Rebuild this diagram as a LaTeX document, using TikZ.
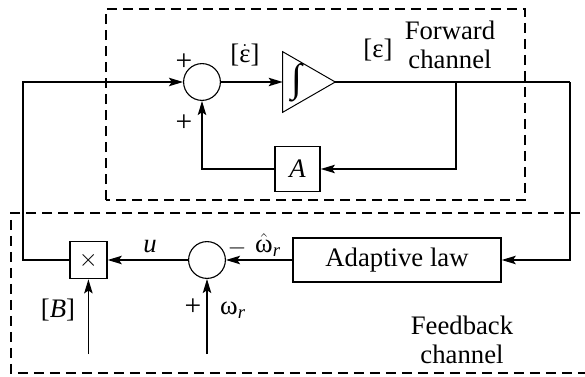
\documentclass[tikz,border=0pt]{standalone}
\usepackage{fontspec}
\setmainfont{Liberation Serif}
\usepackage{tikz}
\usetikzlibrary{arrows.meta}

\begin{document}
\begin{tikzpicture}[arr/.style={-{Stealth[length=10pt,width=6pt,inset=2pt]},line width=1pt},
  blk/.style={draw,line width=1pt,inner sep=0pt},
  sumc/.style={draw,circle,line width=0.8pt,minimum size=0.92cm,inner sep=0pt},
  chan/.style={line width=0.9pt,dash pattern=on 0.25cm off 0.15cm},
  every node/.style={font=\rmfamily\fontsize{19}{21}\selectfont}]
  \useasboundingbox (0,0) rectangle (14.625,9.4);

  % Channel frames
  \draw[chan] (2.65,4.4) rectangle (13.125,9.175);
  \draw[chan] (14.9,4.075) -- (0.275,4.075) -- (0.275,0.075) -- (14.9,0.075);

  % Forward channel
  \node[sumc] (s1) at (5.05,7.35) {};
  \node[minimum width=1.3cm,minimum height=1.5cm,inner sep=0pt] (integ) at (7.725,7.35) {};
  \draw[line width=0.7pt] (integ.north west) -- (integ.east) -- (integ.south west) -- cycle;
  \node[font=\rmfamily\fontsize{28}{28}\selectfont] at (7.42,7.32) {∫};
  \node[blk,minimum size=1.125cm] (Ablk) at (7.44,5.175) {\textit{A}};
  \coordinate (lc) at (0.58,7.35);
  \coordinate (rc) at (14.25,7.35);
  \coordinate (jn) at (11.4,7.35);

  % Feedback channel
  \node[blk,minimum size=0.93cm] (mult) at (2.21,2.9) {$\times$};
  \node[sumc] (s2) at (5.175,2.9) {};
  \node[blk,minimum width=5.2cm,minimum height=1.1cm] (adapt) at (9.925,2.9) {Adaptive law};
  \coordinate (bin) at (2.21,0.55);
  \coordinate (win) at (5.175,0.55);

  % Connections
  \draw[arr] (mult.west) -| (lc) -- (s1.west);
  \draw[arr] (s1.east) -- (integ.west);
  \draw[line width=1pt] (integ.east) -- (rc);
  \draw[arr] (rc) |- (adapt.east);
  \draw[arr] (jn) |- (Ablk.east);
  \draw[arr] (Ablk.west) -| (s1.south);
  \draw[arr] (adapt.west) -- (s2.east);
  \draw[arr] (s2.west) -- (mult.east);
  \draw[arr] (bin) -- (mult.south);
  \draw[arr] (win) -- (s2.south);

  % Signs and signals
  \node at (4.6,7.85) {\fontsize{21}{21}\selectfont +};
  \node at (4.6,6.325) {\fontsize{21}{21}\selectfont +};
  \node at (6.125,8.025) {[$\dot{\hbox{ε}}$]};
  \node at (9.45,8.15) {[ε]};
  \node[align=center] at (11.25,8.275) {Forward\\channel};
  \node at (3.75,3.225) {\textit{u}};
  \node at (5.925,3.2) {$-$};
  \node at (6.7,3.275) {$\hat{\hbox{ω}}$\textsubscript{\textit{r}}};
  \node at (1.45,1.65) {[\textit{B}]};
  \node at (4.825,1.725) {\fontsize{21}{21}\selectfont +};
  \node at (5.825,1.65) {ω\textsubscript{\textit{r}}};
  \node[align=center] at (11.55,0.9) {Feedback\\channel};

\end{tikzpicture}
\end{document}
